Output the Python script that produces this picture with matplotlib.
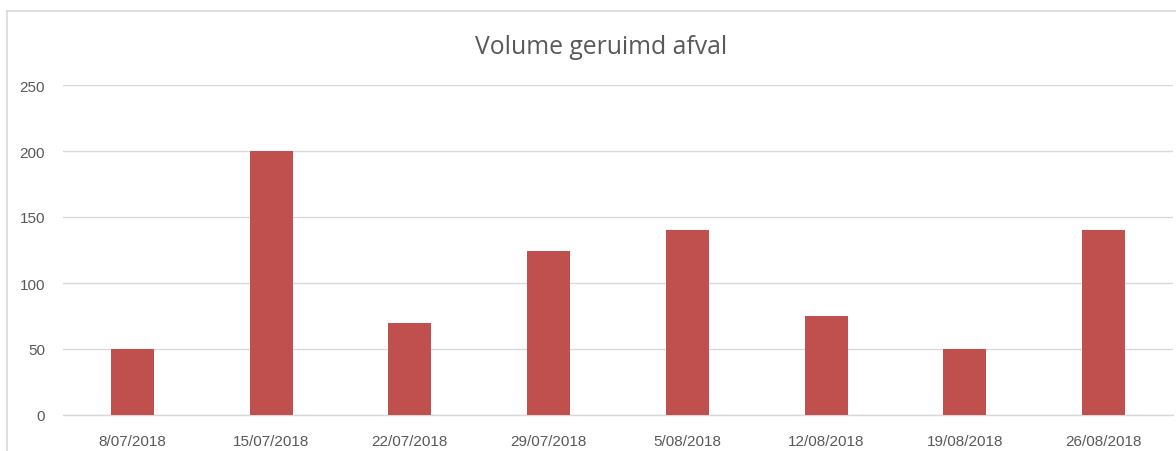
import matplotlib
matplotlib.use("Agg")
import matplotlib.pyplot as plt
from matplotlib.lines import Line2D

categories = ["8/07/2018", "15/07/2018", "22/07/2018", "29/07/2018",
              "5/08/2018", "12/08/2018", "19/08/2018", "26/08/2018"]
values = [50, 200, 70, 124, 140, 75, 50, 140]
yticks = [0, 50, 100, 150, 200, 250]
title = "Volume geruimd afval"

W, H = 1176, 452
fig = plt.figure(figsize=(W / 100, H / 100), dpi=100)
fig.patch.set_facecolor("white")

ax = fig.add_axes([63 / W, 1 - 416 / H, (1173 - 63) / W, (416 - 86) / H])
x = list(range(len(categories)))
ax.bar(x, values, width=0.31, color="#C0504D", zorder=3)
ax.set_xlim(-0.5, len(categories) - 0.5)
ax.set_ylim(0, 250)
ax.set_yticks(yticks)
ax.set_xticks(x)
ax.set_xticklabels(categories)
ax.grid(axis="y", color="#d9d9d9", linewidth=1.0, zorder=0)
for s in ["top", "right", "left"]:
    ax.spines[s].set_visible(False)
ax.spines["bottom"].set_color("#d9d9d9")
ax.spines["bottom"].set_linewidth(1.0)
ax.tick_params(axis="both", length=0, labelsize=11, labelcolor="#595959")
ax.tick_params(axis="y", pad=13)
ax.tick_params(axis="x", pad=14)
for lab in ax.get_xticklabels() + ax.get_yticklabels():
    lab.set_fontfamily("Liberation Sans")

fig.text(601 / W, 1 - 47 / H, title, ha="center", va="center",
         fontsize=17.8, color="#595959", family="Open Sans")

# chart frame (cropped at right/bottom)
fig.add_artist(Line2D([7 / W, 1], [1 - 12 / H, 1 - 12 / H], color="#d9d9d9", lw=1.2))
fig.add_artist(Line2D([7 / W, 7 / W], [0, 1 - 12 / H], color="#d9d9d9", lw=1.2))

fig.savefig("out.png", dpi=100, facecolor="white")
